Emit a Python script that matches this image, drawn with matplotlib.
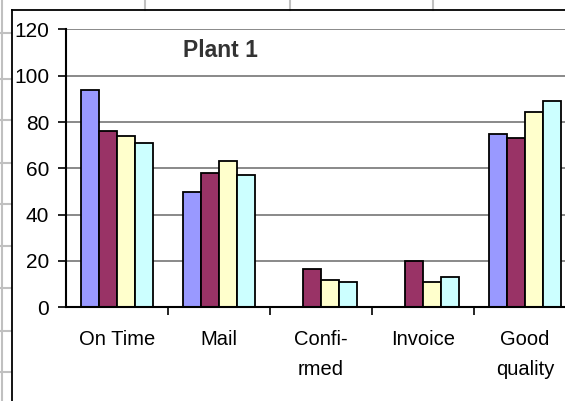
import numpy as np
import matplotlib
matplotlib.use('Agg')
import matplotlib.pyplot as plt
from matplotlib.lines import Line2D

plt.rcParams['font.family'] = ['Liberation Sans', 'DejaVu Sans']

categories = ['On Time', 'Mail', 'Confi-\nrmed', 'Invoice', 'Good\nquality']
series_1 = [94, 50, 0, 0, 75]
series_2 = [76, 58, 16.5, 20, 73]
series_3 = [74, 63, 12, 11, 84.5]
series_4 = [71, 57, 11, 13, 89]
y_ticks = [0, 20, 40, 60, 80, 100, 120]

colors = ['#9999ff', '#993366', '#ffffcc', '#ccffff']

W, H = 565, 401
fig = plt.figure(figsize=(W / 100, H / 100), dpi=100)
fig.patch.set_facecolor('white')


def px_line(xs, ys, **kw):
    # figure-level line given in pixel coordinates (origin top-left)
    fig.add_artist(Line2D([x / W for x in xs], [1 - y / H for y in ys],
                          transform=fig.transFigure, **kw))


# worksheet cell lines behind the chart object
sheet = dict(color='#c0c0c0', lw=1.5, zorder=0)
px_line([2, 2], [0, H], **sheet)
for y in [33, 79, 120, 163, 204, 246, 288, 331, 372]:
    px_line([0, 11], [y, y], **sheet)
for x in [145, 290, 433]:
    px_line([x, x], [0, 10], **sheet)

# chart object frame
px_line([11.5, 11.5], [10, H], color='black', lw=1.3, zorder=1)
px_line([11.5, W], [10, 10], color='black', lw=1.3, zorder=1)

left, right, top, bottom = 66, 576, 29.5, 307.3
ax = fig.add_axes([left / W, 1 - bottom / H, (right - left) / W, (bottom - top) / H])
ax.set_facecolor('none')

x = np.arange(len(categories))
bw = 0.176
for k, (vals, c) in enumerate(zip([series_1, series_2, series_3, series_4], colors)):
    ax.bar(x + (k - 1.5) * bw, vals, width=bw, color=c, edgecolor='black',
           linewidth=1.3, zorder=3)

ax.set_xlim(-0.5, len(categories) - 0.5)
ax.set_ylim(0, 120)
ax.set_yticks(y_ticks)
ax.set_yticklabels([str(v) for v in y_ticks], fontsize=15)
ax.yaxis.grid(True, color='#808080', lw=1.3, zorder=0)
ax.set_axisbelow(True)

ax.set_xticks(x)
ax.set_xticklabels(categories, fontsize=14.5, linespacing=1.75, va='top')
ax.set_xticks(np.arange(len(categories)) + 0.5, minor=True)
ax.tick_params(axis='x', which='major', length=0, pad=16.5)
ax.tick_params(axis='x', which='minor', length=6, width=1.2, direction='out')
ax.tick_params(axis='y', length=6, width=1.2, direction='out', pad=6)

for s in ['top', 'right']:
    ax.spines[s].set_visible(False)
for s in ['left', 'bottom']:
    ax.spines[s].set_linewidth(1.5)
    ax.spines[s].set_zorder(4)

fig.text(220 / W, 1 - 50.5 / H, 'Plant 1', ha='center', va='center',
         fontsize=16.5, fontweight='bold', color='#333333')

fig.savefig('out.png', dpi=100)
